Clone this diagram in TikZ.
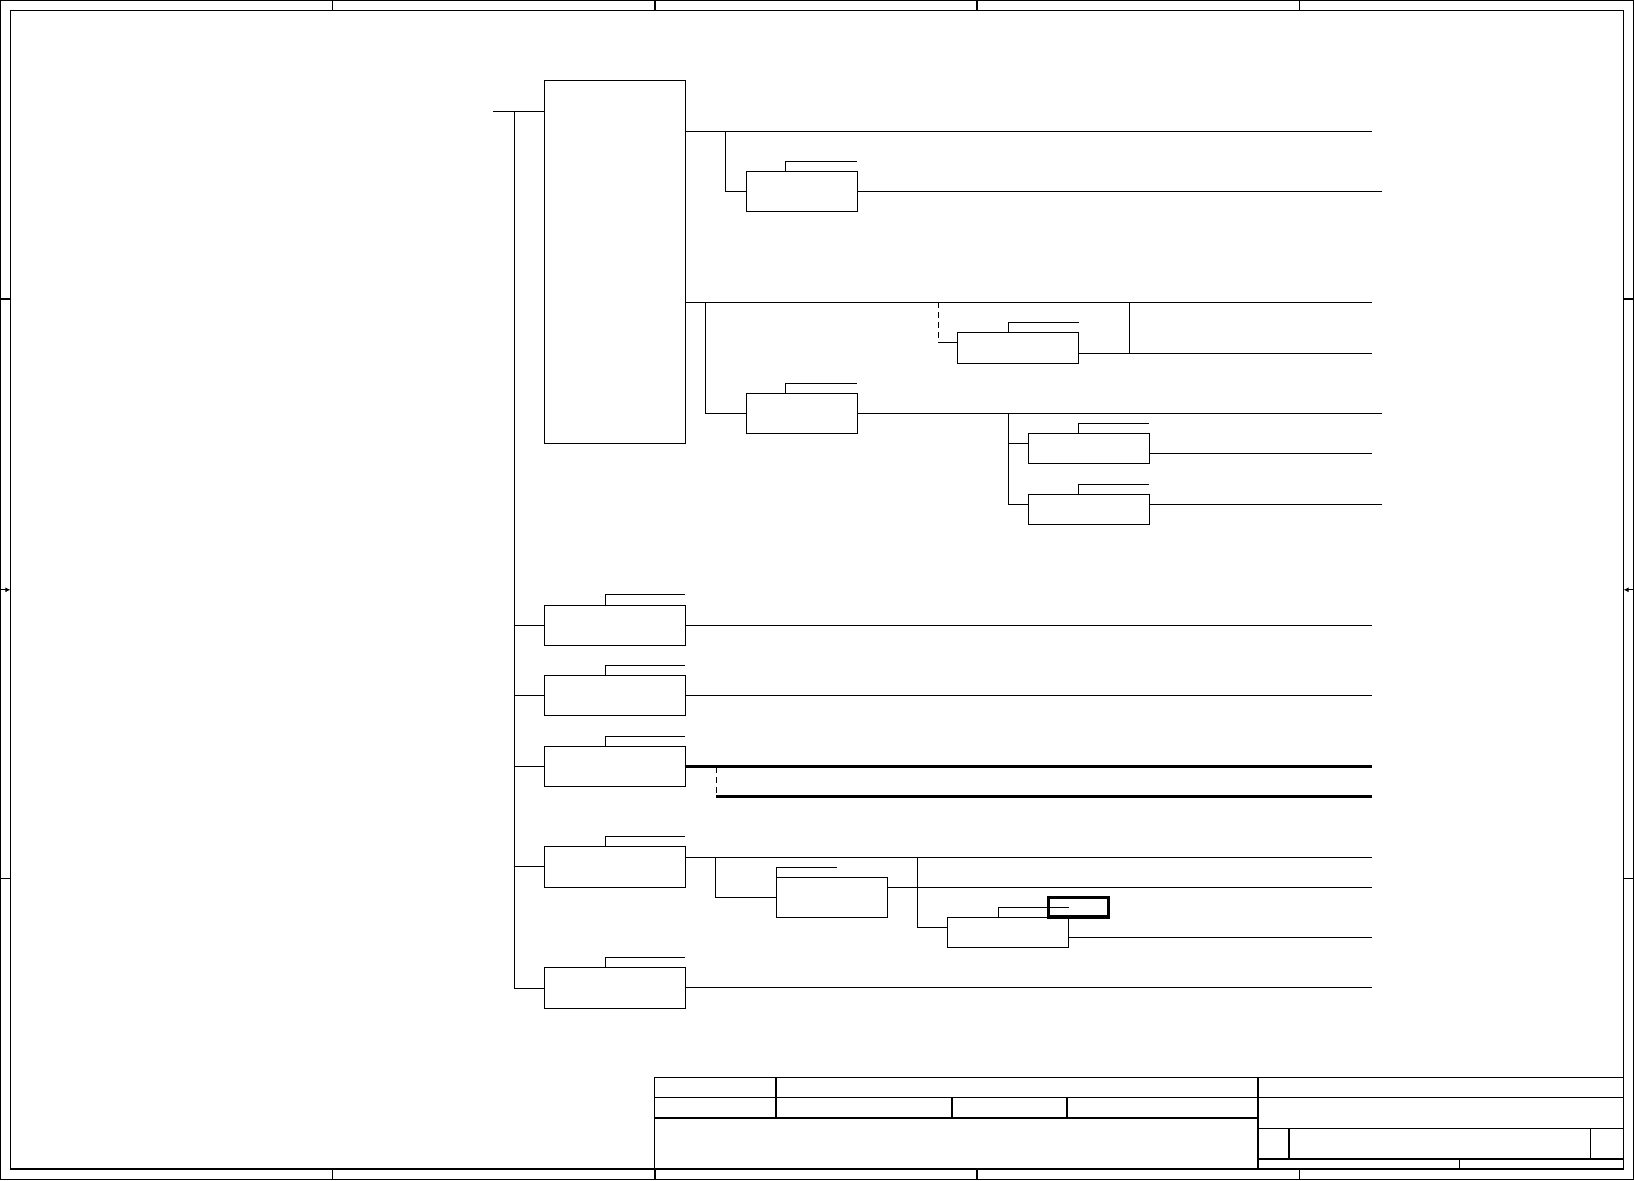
\documentclass[tikz,border=0pt]{standalone}
\usetikzlibrary{arrows.meta}
\begin{document}
\begin{tikzpicture}[x=1pt,y=-1pt,
  ln/.style={line width=1.1pt},
  box/.style={draw,line width=1.1pt,rectangle,inner sep=0pt,outer sep=0pt},
  bigbox/.style={box,minimum width=141pt},
  midbox/.style={box,minimum width=111pt,minimum height=40pt},
  smallbox/.style={box,minimum width=121pt,minimum height=30pt},
  thickline/.style={line width=3pt},
  dashline/.style={line width=1.1pt,dash pattern=on 6pt off 4pt},
  frame/.style={line width=1.2pt},
  line cap=butt]
\useasboundingbox (0,0) rectangle (1634,1181);
\fill[white] (0,0) rectangle (1634,1181);
% ---------- drawing frame ----------
\draw[frame] (0.8,0.8) rectangle (1633.2,1179.8);
\draw[frame] (10.4,10.4) rectangle (1623.6,1169);
\foreach \xx in {332.7,655,977,1299.5}{
  \draw[frame] (\xx,0.8) -- (\xx,10.4);
  \draw[frame] (\xx,1169) -- (\xx,1179.8);}
\foreach \yy in {299,878.5}{
  \draw[frame] (0.8,\yy) -- (10.4,\yy);
  \draw[frame] (1623.6,\yy) -- (1633.2,\yy);}
\coordinate (la0) at (0.8,589.8); \coordinate (la1) at (10.4,589.8);
\coordinate (ra0) at (1633.2,589.8); \coordinate (ra1) at (1623.6,589.8);
\draw[frame,-{Latex[length=5pt,width=5pt]}] (la0) -- (la1);
\draw[frame,-{Latex[length=5pt,width=5pt]}] (ra0) -- (ra1);
% ---------- title block ----------
\draw[frame] (654.4,1169) -- (654.4,1077.5) -- (1623.6,1077.5);
\draw[frame] (654.4,1097.7) -- (1623.6,1097.7);
\draw[frame] (654.4,1118) -- (1258,1118);
\draw[frame] (776,1077.5) -- (776,1118);
\draw[frame] (1258,1077.5) -- (1258,1169);
\draw[frame] (951.9,1097.7) -- (951.9,1118);
\draw[frame] (1066.9,1097.7) -- (1066.9,1118);
\draw[frame] (1258,1128.8) -- (1623.6,1128.8);
\draw[frame] (1289,1128.8) -- (1289,1159);
\draw[frame] (1590.5,1128.8) -- (1590.5,1159);
\draw[frame] (1258,1159) -- (1623.6,1159);
\draw[frame] (1459.8,1159) -- (1459.8,1169);
% ---------- boxes ----------
\node[bigbox,minimum height=363pt] (A) at (614.8,261.8) {};
\node[midbox] (C) at (801.8,191.3) {};
\node[midbox] (D) at (801.8,413.3) {};
\node[smallbox,minimum height=31pt] (E) at (1018,347.8) {};
\node[smallbox] (F) at (1088.8,448.3) {};
\node[smallbox] (G) at (1088.8,509.3) {};
\node[bigbox,minimum height=40pt] (B1) at (614.8,625.3) {};
\node[bigbox,minimum height=40pt] (B2) at (614.8,695.3) {};
\node[bigbox,minimum height=40pt] (B3) at (614.8,766.5) {};
\node[bigbox,minimum height=41pt] (B4) at (614.8,866.8) {};
\node[bigbox,minimum height=41pt] (B5) at (614.8,987.8) {};
\node[box,minimum width=111.4pt,minimum height=40pt] (H) at (832,897.3) {};
\node[smallbox] (I) at (1008,932.3) {};
\node[draw,line width=3.5pt,inner sep=0pt,minimum width=60pt,minimum height=19.5pt] (J) at (1078.3,907.35) {};
% ---------- tags above boxes ----------
\draw[ln] ([xshift=-9.5pt]B1.north) |- ([yshift=11pt]B1.north east);
\draw[ln] ([xshift=-9.5pt]B2.north) |- ([yshift=10pt]B2.north east);
\draw[ln] ([xshift=-9.5pt]B3.north) |- ([yshift=10pt]B3.north east);
\draw[ln] ([xshift=-9.5pt]B4.north) |- ([yshift=10pt]B4.north east);
\draw[ln] ([xshift=-9.5pt]B5.north) |- ([yshift=10pt]B5.north east);
\draw[ln] ([xshift=-16.1pt]C.north) |- ([yshift=10pt]C.north east);
\draw[ln] ([xshift=-16.1pt]D.north) |- ([yshift=10pt]D.north east);
\draw[ln] ([xshift=-9.7pt]E.north) |- ([yshift=10pt]E.north east);
\draw[ln] ([xshift=-10.5pt]F.north) |- ([yshift=10pt]F.north east);
\draw[ln] ([xshift=-10.5pt]G.north) |- ([yshift=10pt]G.north east);
\draw[ln] (H.north west) |- ([xshift=-51pt,yshift=10pt]H.north east);
\draw[ln] ([xshift=-9.7pt]I.north) |- ([yshift=10pt]I.north east);
% ---------- main bus ----------
\coordinate (in) at (493.3,111.3);
\coordinate (bus) at (514.3,111.3);
\coordinate (busend) at (514.3,988.3);
\coordinate (RS) at (1371.7,0);
\coordinate (RL) at (1381.7,0);
\draw[ln] (in) -- (A.west |- in);
\draw[ln] (bus) -- (busend);
\draw[ln] (bus |- B1.west) -- (B1.west);
\draw[ln] (bus |- B2.west) -- (B2.west);
\draw[ln] (bus |- B3.west) -- (B3.west);
\draw[ln] (bus |- B4.west) -- (B4.west);
\draw[ln] (busend) -- (B5.west |- busend);
% ---------- from A ----------
\coordinate (a1) at (685.3,131.3);
\coordinate (v1) at (725.3,131.3);
\draw[ln] (a1) -- (a1 -| RS);
\draw[ln] (v1) |- (C.west);
\draw[ln] (C.east) -- (C.east -| RL);
\coordinate (a2) at (685.3,302.3);
\coordinate (v2) at (705.5,302.3);
\draw[ln] (a2) -- (a2 -| RS);
\draw[ln] (v2) |- (D.west);
\draw[ln] (D.east) -- (D.east -| RL);
% dashed branch to E
\coordinate (ed0) at (938.3,302.3);
\coordinate (ed1) at (938.3,342.3);
\draw[dashline] (ed0) -- (ed1);
\draw[ln] (ed1) -- (E.west |- ed1);
\coordinate (eo) at (1078.7,353.3);
\draw[ln] (eo) -- (eo -| RS);
\coordinate (ev) at (1129.3,302.3);
\draw[ln] (ev) -- (ev |- eo);
% D branch to F and G
\coordinate (v3) at (1008.3,413.3);
\coordinate (fi) at (1008.3,443.3);
\coordinate (gi) at (1008.3,504.3);
\draw[ln] (v3) -- (gi) -- (G.west |- gi);
\draw[ln] (fi) -- (F.west |- fi);
\coordinate (fo) at (1149.3,453.3);
\draw[ln] (fo) -- (fo -| RS);
\coordinate (go) at (1149.3,504.3);
\draw[ln] (go) -- (go -| RL);
% ---------- B outputs ----------
\draw[ln] (B1.east) -- (B1.east -| RS);
\draw[ln] (B2.east) -- (B2.east -| RS);
\coordinate (b3o) at (684.5,766.7);
\draw[thickline] (b3o) -- (b3o -| RS);
\coordinate (b3d0) at (716.3,766.7);
\coordinate (b3d1) at (716.3,796.3);
\draw[dashline] (b3d0) -- (b3d1);
\draw[thickline] (b3d1) -- (b3d1 -| RS);
\coordinate (b4o) at (685.3,857.3);
\draw[ln] (b4o) -- (b4o -| RS);
\coordinate (v4) at (715.7,857.3);
\coordinate (hi) at (715.7,897.3);
\draw[ln] (v4) -- (hi) -- (H.west);
\coordinate (ho) at (887.7,887.3);
\draw[ln] (ho) -- (ho -| RS);
\coordinate (v5) at (917.3,857.3);
\coordinate (ii) at (917.3,927.3);
\draw[ln] (v5) -- (ii) -- (I.west |- ii);
\coordinate (io) at (1068.7,937.3);
\draw[ln] (io) -- (io -| RS);
\draw[ln] (B5.east) -- (B5.east -| RS);
\end{tikzpicture}
\end{document}
